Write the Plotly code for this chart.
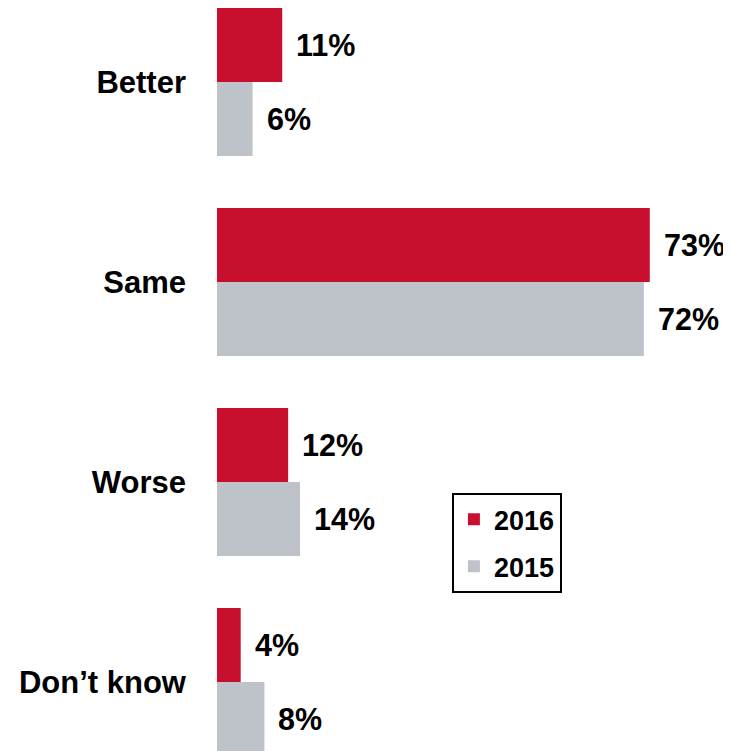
import plotly.graph_objects as go

categories = ["Better", "Same", "Worse", "Don\u2019t know"]
series_2016 = [11, 73, 12, 4]
series_2015 = [6, 72, 14, 8]
labels_2016 = ["11%", "73%", "12%", "4%"]
labels_2015 = ["6%", "72%", "14%", "8%"]

RED = "#C8102E"
GRAY = "#BDC3C9"
FONT = "Liberation Sans, Arial, sans-serif"

fig = go.Figure()
fig.add_trace(go.Bar(y=categories, x=series_2016, name="<b>2016</b>", orientation="h",
                     marker=dict(color=RED, line=dict(width=0)), legendgroup="a",
                     offsetgroup="a"))
fig.add_trace(go.Bar(y=categories, x=series_2015, name="<b>2015</b>", orientation="h",
                     marker=dict(color=GRAY, line=dict(width=0)), legendgroup="b",
                     offsetgroup="b"))

annotations = []
for i, c in enumerate(categories):
    for off, v, lab in ((-0.185, series_2016[i], labels_2016[i]), (0.185, series_2015[i], labels_2015[i])):
        annotations.append(dict(x=v, y=i + off, xref="x", yref="y", text=f"<b>{lab}</b>",
                                showarrow=False, xanchor="left", yanchor="middle", xshift=12,
                                font=dict(family=FONT, size=30.5, color="#000000")))

fig.update_layout(
    width=723, height=743,
    margin=dict(l=209, r=0, t=0, b=0),
    plot_bgcolor="white", paper_bgcolor="white",
    barmode="group", bargap=0.26, bargroupgap=0,
    font=dict(family=FONT, color="#000000"),
    xaxis=dict(range=[0, 86.7], visible=False, fixedrange=True),
    yaxis=dict(type="category", categoryorder="array", categoryarray=categories,
               range=[3.345, -0.37], showgrid=False, zeroline=False, showline=False,
               ticks="", ticklabelstandoff=30,
               tickfont=dict(family=FONT, size=31, color="#000000"),
               tickvals=categories, ticktext=[f"<b>{c}</b>" for c in categories]),
    legend=dict(x=0.457, y=0.347, xanchor="left", yanchor="top",
                bordercolor="#000000", borderwidth=2, bgcolor="white",
                traceorder="grouped", tracegroupgap=9,
                font=dict(family=FONT, size=27, color="#000000"),
                itemwidth=30),
    annotations=annotations,
    showlegend=True,
)

fig.write_html("out.html")
